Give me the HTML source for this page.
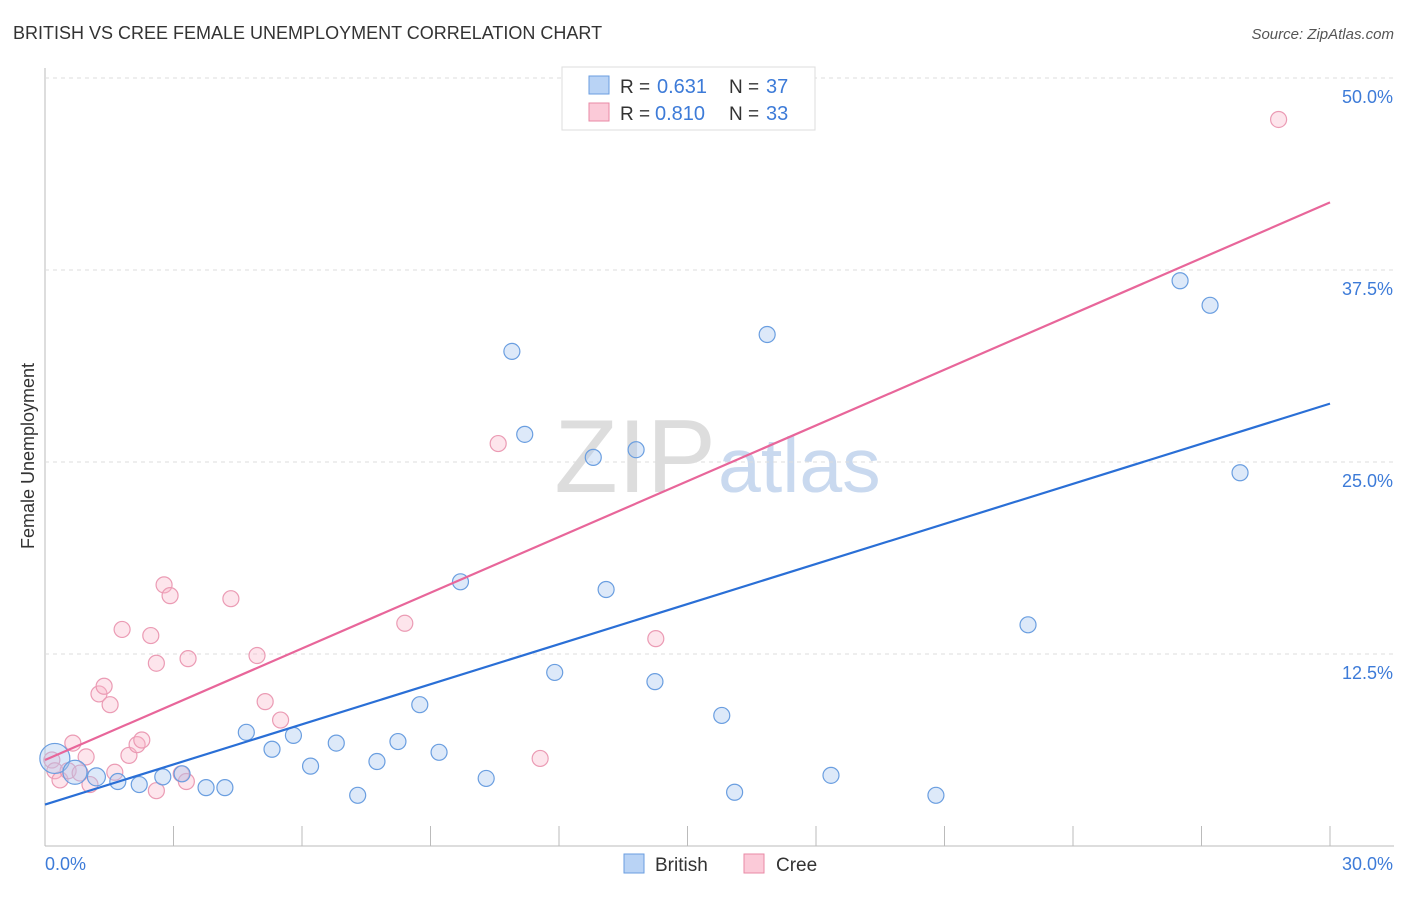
<!DOCTYPE html>
<html><head><meta charset="utf-8"><style>
body{margin:0;background:#fff;font-family:"Liberation Sans",sans-serif}
svg text{font-family:"Liberation Sans",sans-serif}
</style></head><body>
<svg id="c" width="1406" height="892">
<text x="13" y="39" font-size="18" fill="#333">BRITISH VS CREE FEMALE UNEMPLOYMENT CORRELATION CHART</text>
<text x="1394" y="39" font-size="15" fill="#555" font-style="italic" text-anchor="end">Source: ZipAtlas.com</text>
<text x="716" y="492" font-size="104" fill="#ddd" font-family="Liberation Serif" text-anchor="end">ZIP</text>
<text x="718" y="492" font-size="77" fill="#c9d9ef">atlas</text>
<text x="34" y="456" font-size="18" fill="#333" transform="rotate(-90 34 456)" text-anchor="middle">Female Unemployment</text>
<g id="grid"></g><g id="marks"></g>
<g>
<rect x="562" y="67" width="253" height="63" fill="#fff" stroke="#ddd"/>
<rect x="589" y="76" width="20" height="18" fill="#b9d3f5" stroke="#6a9ee0"/>
<rect x="589" y="103" width="20" height="18" fill="#fbcad8" stroke="#e88aa6"/>
<text x="620" y="93" font-size="19" fill="#333">R =</text><text x="657" y="93" font-size="20" fill="#3d7bd8">0.631</text>
<text x="729" y="93" font-size="19" fill="#333">N =</text><text x="766" y="93" font-size="20" fill="#3d7bd8">37</text>
<text x="620" y="120" font-size="19" fill="#333">R =</text><text x="655" y="120" font-size="20" fill="#3d7bd8">0.810</text>
<text x="729" y="120" font-size="19" fill="#333">N =</text><text x="766" y="120" font-size="20" fill="#3d7bd8">33</text>
</g>
<g>
<rect x="624" y="854" width="20" height="19" fill="#b9d3f5" stroke="#6a9ee0"/>
<text x="655" y="871" font-size="19" fill="#333">British</text>
<rect x="744" y="854" width="20" height="19" fill="#fbcad8" stroke="#e88aa6"/>
<text x="776" y="871" font-size="19" fill="#333">Cree</text>
</g>
</svg>
<script>
const yTicks=[12.5,25,37.5,50];
const yTickLabels=["12.5%","25.0%","37.5%","50.0%"];
const xTickLabels=["0.0%","30.0%"];
const britishX=[0.23,0.7,1.2,1.7,2.2,2.75,3.2,3.76,4.2,4.7,5.3,5.8,6.2,6.8,7.3,7.75,8.24,8.75,9.2,9.7,10.3,10.9,11.2,11.9,12.8,13.1,13.8,14.24,15.8,16.1,16.86,18.35,20.8,22.95,26.5,27.2,27.9];
const britishY=[5.7,4.8,4.5,4.2,4.0,4.5,4.7,3.8,3.8,7.4,6.3,7.2,5.2,6.7,3.3,5.5,6.8,9.2,6.1,17.2,4.4,32.2,26.8,11.3,25.3,16.7,25.8,10.7,8.5,3.5,33.3,4.6,3.3,14.4,36.8,35.2,24.3];
const britishR=[15,12,9,8,8,8,8,8,8,8,8,8,8,8,8,8,8,8,8,8,8,8,8,8,8,8,8,8,8,8,8,8,8,8,8,8,8];
const creeX=[0.16,0.23,0.35,0.54,0.65,0.82,0.96,1.05,1.26,1.38,1.52,1.63,1.8,1.96,2.15,2.26,2.47,2.6,2.6,2.78,2.92,3.18,3.3,3.34,4.34,4.95,5.14,5.5,8.4,10.58,11.56,14.26,28.8];
const creeY=[5.6,4.9,4.3,4.9,6.7,4.75,5.8,4.0,9.9,10.4,9.2,4.8,14.1,5.9,6.6,6.9,13.7,11.9,3.6,17.0,16.3,4.7,4.2,12.2,16.1,12.4,9.4,8.2,14.5,26.2,5.7,13.5,47.3];
const britishLine=[2.7,28.8];
const creeLine=[5.6,41.9];
const X=v=>45+v*(1285/30), Y=v=>846-v*(768/50);
const NS="http://www.w3.org/2000/svg";
const grid=document.getElementById('grid'), marks=document.getElementById('marks');
function mk(p,tag,a){const e=document.createElementNS(NS,tag);for(const k in a)e.setAttribute(k,a[k]);p.appendChild(e);return e;}
let ax=mk(grid,'line',{x1:45,y1:68,x2:45,y2:846,stroke:'#bbb'});


let bx=mk(grid,'line',{x1:45,y1:846,x2:1394,y2:846,stroke:'#bbb'});


for(let i=0;i<=10;i++){let t=mk(grid,'line',{x1:X(i*3),x2:X(i*3),y1:826,y2:846,stroke:'#bbb'});

}
yTicks.forEach((v,i)=>{let g=mk(grid,'line',{x1:45,x2:1394,y1:Y(v),y2:Y(v),stroke:'#ddd','stroke-dasharray':'4,4'});


let t=mk(grid,'text',{x:1393,y:Y(v)+25,'font-size':18,fill:'#3d7bd8','text-anchor':'end'});t.textContent=yTickLabels[i];

});
xTickLabels.forEach((s,i)=>{let t=mk(grid,'text',{x:i?1393:45,y:870,'font-size':18,fill:'#3d7bd8','text-anchor':i?'end':'start'});t.textContent=s;

});
creeX.forEach((x,i)=>{let c=mk(marks,'circle',{cx:X(x),cy:Y(creeY[i]),r:8,fill:'rgba(248,180,200,0.35)',stroke:'#eb9bb4','stroke-width':1.2});

});
britishX.forEach((x,i)=>{let c=mk(marks,'circle',{cx:X(x),cy:Y(britishY[i]),r:britishR[i],fill:'rgba(170,200,240,0.4)',stroke:'#6a9ee0','stroke-width':1.2});

});
let l1=mk(marks,'line',{x1:X(0),y1:Y(britishLine[0]),x2:X(30),y2:Y(britishLine[1]),stroke:'#2a6fd6','stroke-width':2.2});


let l2=mk(marks,'line',{x1:X(0),y1:Y(creeLine[0]),x2:X(30),y2:Y(creeLine[1]),stroke:'#e8669a','stroke-width':2.2});


</script>
</body></html>
